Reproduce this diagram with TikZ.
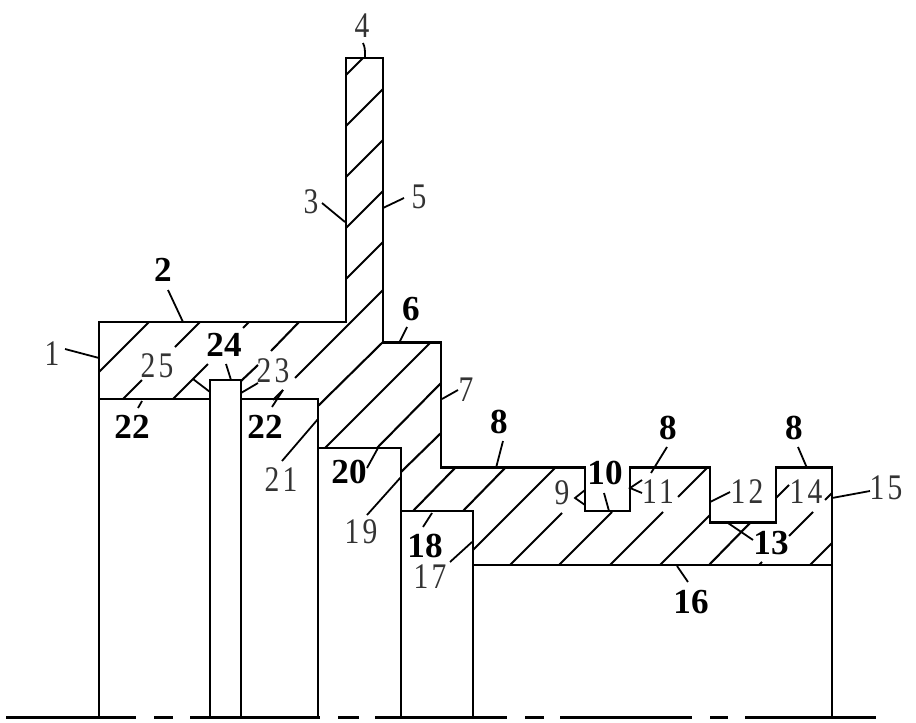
\documentclass[tikz,border=0pt]{standalone}
\usepackage{fontspec}
\setmainfont{Liberation Serif}
\newfontfamily\thinnum[FakeStretch=0.82,LetterSpace=9]{Liberation Serif}
\tikzset{
outline/.style={line width=2.4*0.5669pt, line join=miter},
hatch/.style={line width=2.1*0.5669pt},
leader/.style={line width=1.8*0.5669pt},
centerline/.style={line width=3.2*0.5669pt},
plain/.style={inner sep=0pt, text=black!80, font=\fontsize{20.5pt}{22pt}\selectfont\thinnum},
heavy/.style={inner sep=0pt, font=\fontsize{20pt}{22pt}\selectfont\bfseries}
}
\begin{document}
\begin{tikzpicture}[x=0.02cm,y=-0.02cm]
\useasboundingbox (0,0) rectangle (916,723);
\draw[outline] (99,322) -- (346,322) -- (346,58) -- (383,58) -- (383,342.5) -- (441,342.5) -- (441,467.5) -- (585,467.5) -- (585,511) -- (630,511) -- (630,467.5) -- (710,467.5) -- (710,522.5) -- (776,522.5) -- (776,467.5) -- (832,467.5) -- (832,565) -- (473,565) -- (473,511) -- (401,511) -- (401,448) -- (318,448) -- (318,399) -- (241,399) -- (241,380) -- (210,380) -- (210,399) -- (99,399) -- cycle;
\draw[outline] (99,399) -- (99,717);
\draw[outline] (210,399) -- (210,717);
\draw[outline] (241,399) -- (241,717);
\draw[outline] (318,448) -- (318,717);
\draw[outline] (401,511) -- (401,717);
\draw[outline] (473,565) -- (473,717);
\draw[outline] (832,565) -- (832,717);
\draw[centerline] (6,717.5) -- (136,717.5);
\draw[centerline] (154,717.5) -- (173,717.5);
\draw[centerline] (190,717.5) -- (320,717.5);
\draw[centerline] (338,717.5) -- (359,717.5);
\draw[centerline] (375,717.5) -- (507,717.5);
\draw[centerline] (525,717.5) -- (544,717.5);
\draw[centerline] (560,717.5) -- (692,717.5);
\draw[centerline] (710,717.5) -- (728,717.5);
\draw[centerline] (745,717.5) -- (876,717.5);
\draw[hatch] (363,58) -- (346,75);
\draw[hatch] (383,89) -- (346,126);
\draw[hatch] (383,140) -- (346,177);
\draw[hatch] (383,191) -- (346,228);
\draw[hatch] (383,242) -- (346,279);
\draw[hatch] (149,322) -- (99,372);
\draw[hatch] (200,322) -- (175,347);
\draw[hatch] (142,380) -- (123,399);
\draw[hatch] (249,322) -- (243,328);
\draw[hatch] (208,364) -- (173,399);
\draw[hatch] (299,322) -- (271,351);
\draw[hatch] (258,365) -- (241,381);
\draw[hatch] (383,290) -- (295,378);
\draw[hatch] (283,390) -- (273,400);
\draw[hatch] (383,342) -- (318,406);
\draw[hatch] (430,343) -- (325,448);
\draw[hatch] (441,383) -- (377,448);
\draw[hatch] (441,433) -- (401,472);
\draw[hatch] (455,468) -- (413,511);
\draw[hatch] (505,468) -- (463,511);
\draw[hatch] (555,468) -- (473,550);
\draw[hatch] (562,513) -- (510,565);
\draw[hatch] (612,512) -- (559,565);
\draw[hatch] (707,468) -- (678,497);
\draw[hatch] (663,512) -- (610,565);
\draw[hatch] (710,515) -- (660,565);
\draw[hatch] (750,523) -- (709,565);
\draw[hatch] (789,485) -- (776,498);
\draw[hatch] (832,493) -- (825,500);
\draw[hatch] (813,512) -- (789,536);
\draw[hatch] (762,562) -- (759,565);
\draw[hatch] (832,543) -- (810,565);
\node[plain] (n4) at (362,26) {4};
\node[plain] (n3) at (311,202) {3};
\node[plain] (n5) at (419,197) {5};
\node[plain] (n1) at (52,354) {1};
\node[plain] (n25) at (157,366) {25};
\node[plain] (n23) at (273,371) {23};
\node[plain] (n7) at (466,390) {7};
\node[plain] (n21) at (281,480) {21};
\node[plain] (n19) at (361,532) {19};
\node[plain] (n9) at (562,493) {9};
\node[plain] (n11) at (658,492) {11};
\node[plain] (n12) at (747,492) {12};
\node[plain] (n14) at (806,492) {14};
\node[plain] (n15) at (886,488) {15};
\node[plain] (n17) at (430,577) {17};
\node[heavy] (n2) at (163,270) {2};
\node[heavy] (n6) at (411,309) {6};
\node[heavy] (n24) at (224,345) {24};
\node[heavy] (n22a) at (132,427) {22};
\node[heavy] (n22b) at (265,427) {22};
\node[heavy] (n8a) at (499,422) {8};
\node[heavy] (n8b) at (668,428) {8};
\node[heavy] (n8c) at (794,428) {8};
\node[heavy] (n20) at (349,472) {20};
\node[heavy] (n10) at (605,473) {10};
\node[heavy] (n13) at (771,543) {13};
\node[heavy] (n18) at (425,546) {18};
\node[heavy] (n16) at (691,602) {16};
\draw[leader] (363,43) .. controls (365,48) .. (365,58);
\draw[leader] (322,203) -- (345,222);
\draw[leader] (404,198) -- (383,208);
\draw[leader] (65,349) -- (99,358);
\draw[leader] (168,290) -- (183,322);
\draw[leader] (193,379) -- (210,392);
\draw[leader] (226,364) -- (231,380);
\draw[leader] (258,383) -- (241,393);
\draw[leader] (142,401) -- (138,408);
\draw[leader] (283,390) -- (272,407);
\draw[leader] (407,327) -- (399,343);
\draw[leader] (458,390) -- (442,399);
\draw[leader] (503,441) -- (496,468);
\draw[leader] (378,448) -- (367,468);
\draw[leader] (401,477) -- (367,515);
\draw[leader] (318,419) -- (282,461);
\draw[leader] (472,542) -- (450,562);
\draw[leader] (432,513) -- (423,527);
\draw[leader] (585,490) -- (575,498) -- (585,505);
\draw[leader] (604,493) -- (609,511);
\draw[leader] (642,480) -- (630,488) -- (642,493);
\draw[leader] (667,447) -- (651,473);
\draw[leader] (730,492) -- (710,502);
\draw[leader] (728,523) -- (753,540);
\draw[leader] (798,447) -- (807,468);
\draw[leader] (870,491) -- (832,498);
\draw[leader] (677,566) -- (688,582);
\end{tikzpicture}
\end{document}
